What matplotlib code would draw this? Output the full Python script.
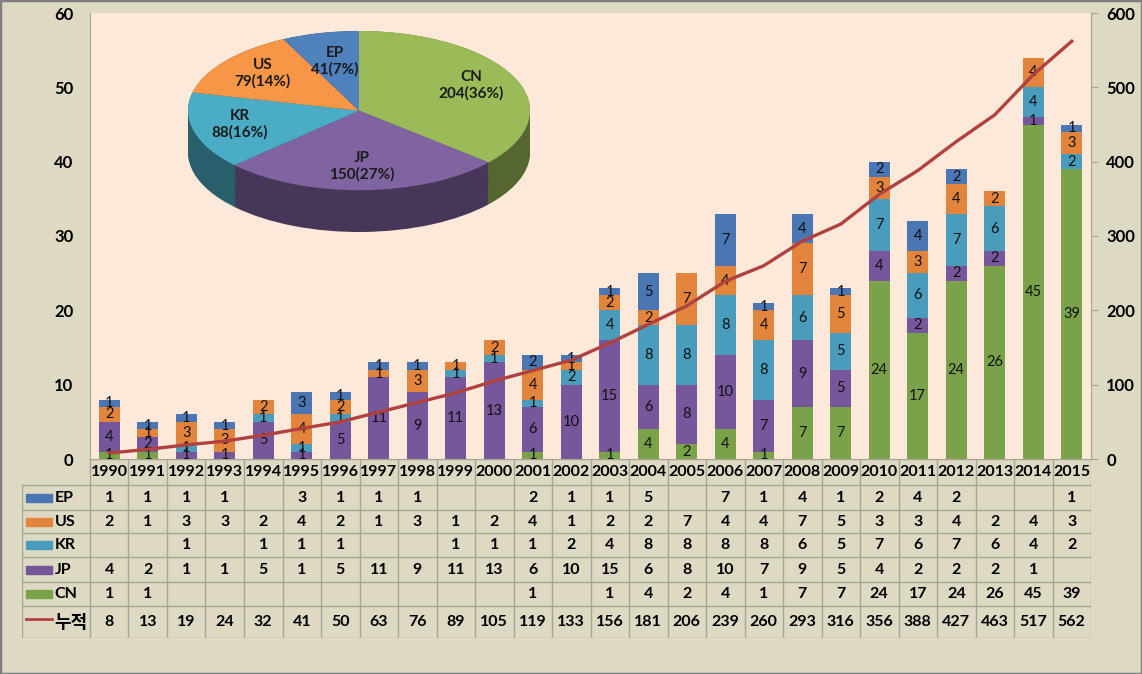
import numpy as np
import matplotlib
matplotlib.use('Agg')
import matplotlib.pyplot as plt
from matplotlib.patches import Rectangle

plt.rcParams['font.family'] = ['Lato', 'Noto Sans CJK KR', 'DejaVu Sans']

years = list(range(1990, 2016))
EP = [1, 1, 1, 1, 0, 3, 1, 1, 1, 0, 0, 2, 1, 1, 5, 0, 7, 1, 4, 1, 2, 4, 2, 0, 0, 1]
US = [2, 1, 3, 3, 2, 4, 2, 1, 3, 1, 2, 4, 1, 2, 2, 7, 4, 4, 7, 5, 3, 3, 4, 2, 4, 3]
KR = [0, 0, 1, 0, 1, 1, 1, 0, 0, 1, 1, 1, 2, 4, 8, 8, 8, 8, 6, 5, 7, 6, 7, 6, 4, 2]
JP = [4, 2, 1, 1, 5, 1, 5, 11, 9, 11, 13, 6, 10, 15, 6, 8, 10, 7, 9, 5, 4, 2, 2, 2, 1, 0]
CN = [1, 1, 0, 0, 0, 0, 0, 0, 0, 0, 0, 1, 0, 1, 4, 2, 4, 1, 7, 7, 24, 17, 24, 26, 45, 39]
cum = [8, 13, 19, 24, 32, 41, 50, 63, 76, 89, 105, 119, 133, 156, 181, 206, 239,
       260, 293, 316, 356, 388, 427, 463, 517, 562]

pie_names = ['CN', 'JP', 'KR', 'US', 'EP']
pie_values = [204, 150, 88, 79, 41]

# colours
BG = '#ddd9c3'
PLOT_BG = '#fde9d9'
GRID = '#a6a594'
bar_cols = {'CN': '#7aa24b', 'JP': '#76579c', 'KR': '#4a9cbc', 'US': '#e3843c', 'EP': '#4a76b3'}
pie_cols = {'CN': '#9bbb59', 'JP': '#8064a2', 'KR': '#4bacc6', 'US': '#f79646', 'EP': '#4f81bd'}
LINE_COL = '#b0413e'

W, H = 1142, 674
fig = plt.figure(figsize=(W / 100, H / 100), dpi=100, facecolor=BG)

def px_box(x0, y0, x1, y1):
    return [x0 / W, 1 - y1 / H, (x1 - x0) / W, (y1 - y0) / H]

# main chart
ax = fig.add_axes(px_box(90, 13, 1091, 459))
ax.set_facecolor(PLOT_BG)
x = np.arange(len(years))
series = [('CN', CN), ('JP', JP), ('KR', KR), ('US', US), ('EP', EP)]
bottom = np.zeros(len(years))
for name, vals in series:
    vals = np.array(vals)
    ax.bar(x, vals, 0.55, bottom=bottom, color=bar_cols[name], zorder=2)
    for xi, b, v in zip(x, bottom, vals):
        if v > 0:
            ax.text(xi, b + v / 2, str(v), ha='center', va='center',
                    fontsize=10.5, color='#111111', zorder=3)
    bottom += vals
ax.set_xlim(-0.5, len(years) - 0.5)
ax.set_ylim(0, 60)
ax.set_yticks(range(0, 61, 10))
ax.set_xticks([])
ax.tick_params(axis='y', length=0, pad=12, labelsize=12)
for lab in ax.get_yticklabels():
    lab.set_fontweight('bold')
for s in ['top', 'right']:
    ax.spines[s].set_visible(False)
for s in ['left', 'bottom']:
    ax.spines[s].set_color(GRID)

ax2 = ax.twinx()
ax2.plot(x, cum, color=LINE_COL, lw=2.4, zorder=4)
ax2.set_ylim(0, 600)
ax2.set_yticks(range(0, 601, 100))
ax2.tick_params(axis='y', length=5, color=GRID, pad=6, labelsize=12)
for lab in ax2.get_yticklabels():
    lab.set_fontweight('bold')
for s in ['top', 'left', 'bottom']:
    ax2.spines[s].set_visible(False)
ax2.spines['right'].set_color(GRID)

# 3D-looking pie
pax = fig.add_axes(px_box(188, 31, 530, 232))
depth = 42 / 80
dark = [tuple(np.array(matplotlib.colors.to_rgb(pie_cols[n])) * 0.55) for n in pie_names]
for k in np.linspace(depth, 0, 40):
    pax.pie(pie_values, colors=dark, center=(0, -k), radius=1, startangle=90,
            counterclock=False, wedgeprops=dict(linewidth=0))
wedges, _ = pax.pie(pie_values, colors=[pie_cols[n] for n in pie_names],
                    radius=1, startangle=90, counterclock=False,
                    wedgeprops=dict(linewidth=0))
total = sum(pie_values)
for w, n, v in zip(wedges, pie_names, pie_values):
    t = np.deg2rad((w.theta1 + w.theta2) / 2)
    r = 0.62 if n == 'EP' else 0.72
    pax.text(r * np.cos(t), r * np.sin(t) + 0.02,
             f'{n}\n{v}({round(100 * v / total)}%)', ha='center', va='center',
             fontsize=11, fontweight='bold', color='#1a1a1a', linespacing=1.2)
pax.set_aspect('auto')
pax.set_xlim(-1, 1)
pax.set_ylim(-1 - depth, 1)
pax.axis('off')

# data table
row_edges = [0, 26, 51, 74, 98, 123, 147, 179]
lab_w = (90 - 22) / (1001 / len(years))
tax = fig.add_axes(px_box(22, 459, 1091, 459 + row_edges[-1]))
tax.set_xlim(-0.5 - lab_w, len(years) - 0.5)
tax.set_ylim(row_edges[-1], 0)
tax.axis('off')
x_left = -0.5 - lab_w
x_right = len(years) - 0.5
lkw = dict(color=GRID, lw=1)
tax.plot([-0.5, x_right], [0, 0], **lkw)
for e in row_edges[1:]:
    tax.plot([x_left, x_right], [e, e], **lkw)
tax.plot([x_left, x_left], [row_edges[1], row_edges[-1]], **lkw)
for k in range(len(years) + 1):
    tax.plot([k - 0.5, k - 0.5], [0, row_edges[-1]], **lkw)

for xi, yr in zip(x, years):
    tax.text(xi, row_edges[0] + 13, str(yr), ha='center', va='center',
             fontsize=11.5, fontweight='bold')

table_rows = [('EP', EP), ('US', US), ('KR', KR), ('JP', JP), ('CN', CN), ('누적', cum)]
for i, (name, vals) in enumerate(table_rows):
    yc = (row_edges[i + 1] + row_edges[i + 2]) / 2
    for xi, v in zip(x, vals):
        if v > 0:
            tax.text(xi, yc, str(v), ha='center', va='center',
                     fontsize=11.5, fontweight='bold')
    kx0 = x_left + 0.1
    kx1 = x_left + 0.78
    if name == '누적':
        tax.plot([kx0, kx1], [yc - 3, yc - 3], color=LINE_COL, lw=2)
        tax.text(kx1 + 0.05, yc, name, ha='left', va='center',
                 fontsize=13, fontweight='bold')
    else:
        tax.add_patch(Rectangle((kx0, yc - 4), kx1 - kx0, 8, color=bar_cols[name]))
        tax.text(kx1 + 0.07, yc, name, ha='left', va='center',
                 fontsize=11.5, fontweight='bold')

fig.patches.append(Rectangle((0, 0), 1, 1, transform=fig.transFigure, fill=False,
                             edgecolor='#7f7f7f', lw=2.5))

fig.savefig('out.png', dpi=100, facecolor=BG)
